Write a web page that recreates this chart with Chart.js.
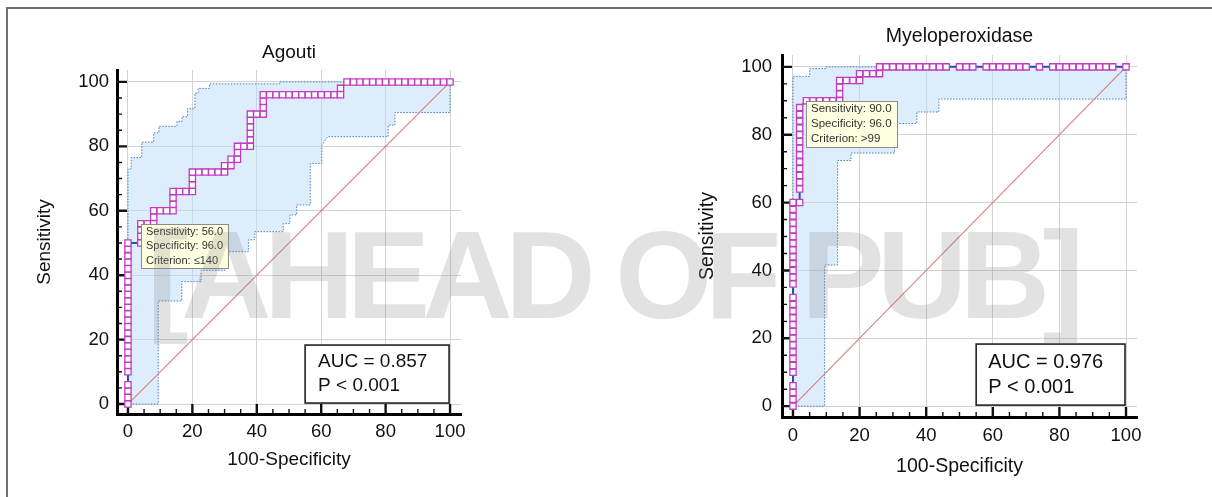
<!DOCTYPE html>
<html>
<head>
<meta charset="utf-8">
<script src="https://cdn.jsdelivr.net/npm/chart.js@4.4.1/dist/chart.umd.min.js"></script>
<style>
  html, body { margin: 0; padding: 0; background: #fff; overflow: hidden; }
  body { width: 1212px; height: 497px; position: relative; }
  #frame { position: absolute; left: 6px; top: 7px; width: 1300px; height: 600px; border: 2px solid #707070; }
  canvas { position: absolute; top: 0; }
  #agouti { left: 0; }
  #mpo { left: 660px; }
  #stamp {
    position: absolute; left: 147px; top: 212px;
    font: bold 125px 'Liberation Sans', Arial, sans-serif; line-height: 1;
    letter-spacing: -7.5px; white-space: nowrap;
    color: rgba(128, 128, 128, 0.23); pointer-events: none;
  }
</style>
</head>
<body>
<div id="frame"></div>
<canvas id="agouti" width="481" height="484"></canvas>
<canvas id="mpo" width="497" height="492"></canvas>
<div id="stamp">[AHEAD OF PUB]</div>
<script>
const FONT = "'Liberation Sans', Arial, sans-serif";

// ROC points as [100-specificity, sensitivity]
const agoutiRoc = [
  [0,0],[0,2],[0,4],[0,6],[0,10],[0,12],[0,14],[0,16],[0,18],[0,20],[0,22],[0,24],[0,26],
  [0,28],[0,30],[0,32],[0,34],[0,36],[0,38],[0,40],[0,42],[0,44],[0,46],[0,48],[0,50],
  [4,50],[4,52],[4,54],[4,56],[6,56],[8,56],[8,58],[8,60],[10,60],[12,60],[14,60],[14,62],
  [14,64],[14,66],[16,66],[18,66],[20,66],[20,68],[20,70],[20,72],[22,72],[24,72],[26,72],
  [28,72],[30,72],[30,74],[32,74],[32,76],[34,76],[34,78],[34,80],[36,80],[38,80],[38,82],
  [38,84],[38,86],[38,88],[38,90],[40,90],[42,90],[42,92],[42,94],[42,96],[44,96],[46,96],
  [48,96],[50,96],[52,96],[54,96],[56,96],[58,96],[60,96],[62,96],[64,96],[66,96],[66,98],
  [68,100],[70,100],[72,100],[74,100],[76,100],[78,100],[80,100],[82,100],[84,100],[86,100],
  [88,100],[90,100],[92,100],[94,100],[96,100],[98,100],[100,100]
];
// 95% confidence bounds
const agoutiUpper = [
  [0,0],[0,73],[1,73],[1,76.5],[4.3,76.5],[4.3,81.3],[8,81.3],[8,84.2],[9.6,84.2],[9.6,86.2],
  [15.2,86.2],[15.2,87.7],[16.8,87.7],[16.8,89.2],[18.5,89.2],[18.5,91.7],[20.8,91.7],[20.8,96.5],
  [21.8,96.5],[21.8,98],[25.3,98],[25.3,99.4],[47,99.4],[47,100],[100,100]
];
const agoutiLower = [
  [0,0],[9.4,0],[9.4,32],[16.7,32],[16.7,38],[22.7,38],[22.7,41.5],[30.2,41.5],[30.2,47.3],
  [37.4,47.3],[37.4,51],[39.4,51],[39.4,53.5],[48.2,53.5],[48.2,56],[50.3,56],[50.3,58.7],
  [52.4,58.7],[52.4,61.8],[56.6,61.8],[56.6,74.7],[60.2,74.7],[60.2,80.3],[62,83],[80.8,83],
  [80.8,86.6],[82.9,86.6],[82.9,90.5],[100,90.5],[100,100]
];
const agoutiCut = { sens: 56.0, spec: 96.0, criterion: '≤140' };
const agoutiAuc = 0.857;

const mpoRoc = [
  [0,0],[0,2],[0,4],[0,6],[0,10],[0,12],[0,14],[0,16],[0,18],[0,20],[0,22],[0,24],[0,26],
  [0,28],[0,30],[0,32],[0,36],[0,38],[0,40],[0,42],[0,44],[0,46],[0,48],[0,50],[0,52],[0,54],
  [0,56],[0,58],[0,60],[2,60],[2,64],[2,66],[2,68],[2,70],[2,72],[2,74],[2,76],[2,78],[2,80],
  [2,82],[2,84],[2,86],[2,88],[4,90],[6,90],[8,90],[10,90],[12,90],[14,90],[14,92],[14,94],
  [14,96],[16,96],[18,96],[20,96],[20,98],[22,98],[24,98],[26,98],[26,100],[28,100],[30,100],
  [32,100],[34,100],[36,100],[38,100],[40,100],[42,100],[44,100],[46,100],[50,100],[52,100],
  [54,100],[58,100],[60,100],[62,100],[64,100],[66,100],[68,100],[70,100],[74,100],[78,100],
  [80,100],[82,100],[84,100],[86,100],[88,100],[90,100],[92,100],[94,100],[96,100],[100,100]
];
const mpoUpper = [
  [0,0],[0,97.2],[5,97.2],[5,99.5],[10,99.5],[10,100],[100,100]
];
const mpoLower = [
  [0,0],[9.5,0],[9.5,41.6],[13.4,41.6],[13.4,72.4],[17.4,72.4],[17.4,74.6],[30.5,74.6],
  [30.5,83.3],[37.2,83.3],[37.2,86.7],[43.8,86.7],[43.8,90.5],[100,90.5],[100,100]
];
const mpoCut = { sens: 90.0, spec: 96.0, criterion: '>99' };
const mpoAuc = 0.976;

const pValue = 'P < 0.001';
const diagonal = [[0,0],[100,100]];

const toXY = pts => pts.map(([x, y]) => ({ x, y }));

// short tick marks pointing into the plot, longer ones at every 20
const inwardTicks = {
  id: 'inwardTicks',
  beforeDatasetsDraw(chart) {
    const { ctx, chartArea: area, scales: { x, y } } = chart;
    ctx.save();
    ctx.strokeStyle = '#111';
    for (let v = 0; v <= 100; v += 5) {
      const major = v % 20 === 0;
      const len = major ? 10 : 5;
      ctx.lineWidth = major ? 2.4 : 1.4;
      const px = x.getPixelForValue(v);
      const py = y.getPixelForValue(v);
      ctx.beginPath();
      ctx.moveTo(px, area.bottom);
      ctx.lineTo(px, area.bottom - len);
      ctx.moveTo(area.left, py);
      ctx.lineTo(area.left + len, py);
      ctx.stroke();
    }
    ctx.restore();
  }
};

// cut-off note at the chosen point and the AUC box
function notesPlugin(n) {
  return {
    id: 'rocNotes',
    afterDatasetsDraw(chart) {
      const { ctx, scales: { x, y } } = chart;
      ctx.save();

      const tip = [
        'Sensitivity: ' + n.cut.sens.toFixed(1),
        'Specificity: ' + n.cut.spec.toFixed(1),
        'Criterion: ' + n.cut.criterion
      ];
      ctx.font = n.tipSize + 'px ' + FONT;
      const bx = Math.round(x.getPixelForValue(100 - n.cut.spec));
      const by = Math.round(y.getPixelForValue(n.cut.sens));
      const bw = Math.round(Math.max(...tip.map(t => ctx.measureText(t).width)) + 2 * n.tipPad);
      const bh = n.tipHeight;
      ctx.fillStyle = '#ffffe1';
      ctx.fillRect(bx, by, bw, bh);
      ctx.strokeStyle = '#8c8c8c';
      ctx.lineWidth = 1;
      ctx.strokeRect(bx + 0.5, by + 0.5, bw, bh);
      ctx.fillStyle = '#333';
      ctx.textBaseline = 'middle';
      tip.forEach((t, i) => ctx.fillText(t, bx + n.tipPad, by + n.tipFirst + i * n.tipLine));

      const ax = x.getPixelForValue(n.aucBox[0]);
      const ay = y.getPixelForValue(n.aucBox[1]);
      const aw = x.getPixelForValue(n.aucBox[2]) - ax;
      const ah = y.getPixelForValue(n.aucBox[3]) - ay;
      ctx.fillStyle = '#fff';
      ctx.fillRect(ax, ay, aw, ah);
      ctx.strokeStyle = '#222';
      ctx.lineWidth = 1.6;
      ctx.strokeRect(ax, ay, aw, ah);
      ctx.fillStyle = '#111';
      ctx.font = n.aucSize + 'px ' + FONT;
      ctx.fillText('AUC = ' + n.auc.toFixed(3), ax + n.aucPad, ay + n.aucFirst);
      ctx.fillText(pValue, ax + n.aucPad, ay + n.aucFirst + n.aucLine);
      ctx.restore();
    }
  };
}

function rocChart(id, c) {
  const tickFont = { family: FONT, size: 18.5 };
  const titleFont = { family: FONT, size: c.titleSize, weight: 'normal' };
  return new Chart(document.getElementById(id), {
    type: 'scatter',
    data: {
      datasets: [
        {
          data: toXY(c.roc),
          showLine: true,
          borderColor: '#1f55a8',
          borderWidth: 2,
          pointStyle: 'rect',
          pointRadius: 4.4,
          pointBorderWidth: 1.3,
          pointBorderColor: '#c23bc2',
          pointBackgroundColor: '#fff',
          order: 0
        },
        {
          data: toXY(diagonal),
          showLine: true,
          borderColor: 'rgb(214, 128, 128)',
          borderWidth: 1.1,
          pointRadius: 0,
          order: 1
        },
        {
          data: toXY(c.upper.concat(c.lower.slice().reverse())),
          showLine: true,
          borderColor: '#4a80c4',
          borderWidth: 1,
          borderDash: [1.5, 1.5],
          pointRadius: 0,
          fill: 'shape',
          backgroundColor: 'rgba(190, 220, 250, 0.5)',
          order: 2
        }
      ]
    },
    options: {
      responsive: false,
      animation: false,
      events: [],
      layout: { padding: { top: c.padTop, right: 20, bottom: 0, left: 0 } },
      plugins: {
        legend: { display: false },
        tooltip: { enabled: false },
        title: {
          display: true,
          text: c.title,
          fullSize: false,
          color: '#111',
          font: titleFont,
          padding: { top: 0, bottom: c.titleGap }
        }
      },
      scales: {
        x: {
          type: 'linear',
          min: c.xRange[0],
          max: c.xRange[1],
          afterFit: s => { s.height = c.xAxisHeight; },
          ticks: { stepSize: 20, includeBounds: false, padding: c.xTickPad, color: '#111', font: tickFont },
          grid: { color: '#d3d3d3', lineWidth: 1, drawTicks: false },
          border: { color: '#000', width: 3 },
          title: { display: true, text: '100-Specificity', color: '#111', font: titleFont, padding: { top: 0, bottom: c.xTitlePad } }
        },
        y: {
          type: 'linear',
          min: c.yRange[0],
          max: c.yRange[1],
          afterFit: s => { s.width = c.yAxisWidth; },
          ticks: { stepSize: 20, includeBounds: false, padding: c.yTickPad, color: '#111', font: tickFont },
          grid: { color: '#d3d3d3', lineWidth: 1, drawTicks: false },
          border: { color: '#000', width: 3 },
          title: { display: true, text: 'Sensitivity', color: '#111', font: titleFont, padding: { top: c.yTitlePad, bottom: 0 } }
        }
      }
    },
    plugins: [inwardTicks, notesPlugin(c.notes)]
  });
}

rocChart('agouti', {
  title: 'Agouti',
  roc: agoutiRoc, upper: agoutiUpper, lower: agoutiLower,
  xRange: [-3.4, 103.4], yRange: [-3.1, 103.7],
  titleSize: 19, padTop: 41.6, titleGap: 5.6,
  yAxisWidth: 117, yTickPad: 8, yTitlePad: 33.6,
  xAxisHeight: 70, xTickPad: 7, xTitlePad: 12.6,
  notes: {
    cut: agoutiCut, auc: agoutiAuc,
    tipSize: 11, tipPad: 5, tipFirst: 7.5, tipLine: 14.5, tipHeight: 44,
    aucBox: [55, 18.3, 99.7, 0.3], aucSize: 19, aucPad: 13, aucFirst: 17, aucLine: 24
  }
});

rocChart('mpo', {
  title: 'Myeloperoxidase',
  roc: mpoRoc, upper: mpoUpper, lower: mpoLower,
  xRange: [-3.3, 103.3], yRange: [-3.2, 103.5],
  titleSize: 19.5, padTop: 25.3, titleGap: 6.3,
  yAxisWidth: 122, yTickPad: 10, yTitlePad: 36.3,
  xAxisHeight: 75, xTickPad: 7.9, xTitlePad: 13.3,
  notes: {
    cut: mpoCut, auc: mpoAuc,
    tipSize: 11.5, tipPad: 5, tipFirst: 8, tipLine: 15, tipHeight: 46,
    aucBox: [55, 18.3, 99.7, 0.3], aucSize: 20, aucPad: 12, aucFirst: 18, aucLine: 25
  }
});
</script>
</body>
</html>
